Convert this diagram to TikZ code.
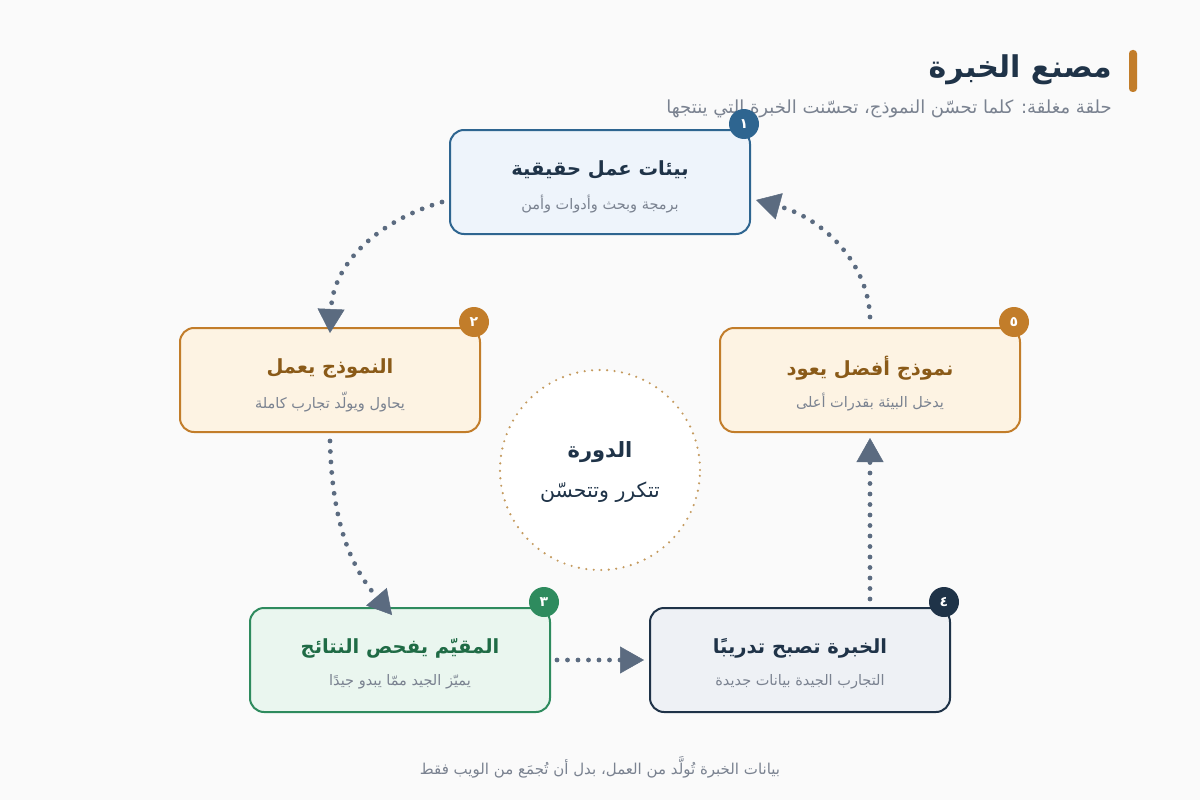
\documentclass[tikz,border=0pt]{standalone}
\usepackage{fontspec}
\usetikzlibrary{arrows.meta,calc}
\newfontfamily\ar[Script=Arabic]{DejaVu Sans}
\TeXXeTstate=1
\definecolor{bgc}{HTML}{FAFAFA}
\definecolor{navy}{HTML}{1F3348}
\definecolor{blueb}{HTML}{2E6590}
\definecolor{bluef}{HTML}{EEF4FB}
\definecolor{orgb}{HTML}{C27D2A}
\definecolor{orgf}{HTML}{FDF3E3}
\definecolor{orgt}{HTML}{8A5A18}
\definecolor{grnb}{HTML}{2E8B5E}
\definecolor{grnf}{HTML}{EAF6EF}
\definecolor{grnt}{HTML}{1F6B45}
\definecolor{navf}{HTML}{EEF1F5}
\definecolor{grayt}{HTML}{7A8290}
\definecolor{arrc}{HTML}{5B6B80}
\definecolor{dotc}{HTML}{C49A5E}
\tikzset{
  box/.style={draw, line width=2, rounded corners=14, minimum width=300, minimum height=104, inner sep=0},
  badge/.style={circle, minimum size=30, inner sep=0, text=white, font=\ar\bfseries\fontsize{14}{16}\selectfont},
  ttl/.style={font=\ar\bfseries\fontsize{19.5}{23}\selectfont},
  sub/.style={text=grayt, font=\ar\fontsize{14.5}{17}\selectfont},
  flow/.style={draw=arrc, line width=4.8, line cap=round, dash pattern=on 0 off 10.5,
    -{Triangle[length=24,width=27,line width=0.5]}}
}
\begin{document}
\begin{tikzpicture}[x=1pt,y=-1pt]
\fill[bgc] (0,0) rectangle (1200,800);
\useasboundingbox (0,0) rectangle (1200,800);

% header
\fill[orgb, rounded corners=3.5] (1129,50) rectangle (1137,92);
\node[anchor=east, text=navy, font=\ar\bfseries\fontsize{30}{36}\selectfont, inner sep=0] (title) at (1112,70) {\beginR مصنع الخبرة\endR};
\node[anchor=east, text=grayt, font=\ar\fontsize{18}{22}\selectfont, inner sep=0] (subtitle) at (1112,109) {\beginR حلقة مغلقة: كلما تحسّن النموذج، تحسّنت الخبرة التي ينتجها\endR};

% center circle
\node[circle, minimum size=200, draw=dotc, line width=2.4, line cap=round, dash pattern=on 0 off 7.5, fill=white] (cyc) at (600,470) {};
\node[text=navy, font=\ar\bfseries\fontsize{21}{25}\selectfont] (cyct) at (600,452) {\beginR الدورة\endR};
\node[text=navy, font=\ar\fontsize{20.5}{25}\selectfont] (cycs) at (600,492) {\beginR تتكرر وتتحسّن\endR};

% boxes
\node[box, draw=blueb, fill=bluef] (b1) at (600,182) {};
\node[box, draw=orgb, fill=orgf] (b2) at (330,380) {};
\node[box, draw=orgb, fill=orgf] (b5) at (870,380) {};
\node[box, draw=grnb, fill=grnf] (b3) at (400,660) {};
\node[box, draw=navy, fill=navf] (b4) at (800,660) {};

% badges
\node[badge, fill=blueb] (n1) at (b1.north east) [xshift=-7, yshift=5] {١};
\node[badge, fill=orgb] (n2) at (b2.north east) [xshift=-7, yshift=5] {٢};
\node[badge, fill=grnb] (n3) at (b3.north east) [xshift=-7, yshift=5] {٣};
\node[badge, fill=navy] (n4) at (b4.north east) [xshift=-7, yshift=5] {٤};
\node[badge, fill=orgb] (n5) at (b5.north east) [xshift=-7, yshift=5] {٥};

% texts
\node[ttl, text=navy] (t1) at ([yshift=12]b1.center) {\beginR بيئات عمل حقيقية\endR};
\node[sub] (s1) at ([yshift=-22]b1.center) {\beginR برمجة وبحث وأدوات وأمن\endR};
\node[ttl, text=orgt] (t2) at ([yshift=12]b2.center) {\beginR النموذج يعمل\endR};
\node[sub] (s2) at ([yshift=-22]b2.center) {\beginR يحاول ويولّد تجارب كاملة\endR};
\node[ttl, text=grnt] (t3) at ([yshift=12]b3.center) {\beginR المقيّم يفحص النتائج\endR};
\node[sub] (s3) at ([yshift=-22]b3.center) {\beginR يميّز الجيد ممّا يبدو جيدًا\endR};
\node[ttl, text=navy] (t4) at ([yshift=12]b4.center) {\beginR الخبرة تصبح تدريبًا\endR};
\node[sub] (s4) at ([yshift=-22]b4.center) {\beginR التجارب الجيدة بيانات جديدة\endR};
\node[ttl, text=orgt] (t5) at ([yshift=12]b5.center) {\beginR نموذج أفضل يعود\endR};
\node[sub] (s5) at ([yshift=-22]b5.center) {\beginR يدخل البيئة بقدرات أعلى\endR};

% arrows
\coordinate (a1s) at ([xshift=-7, yshift=-20]b1.west);
\coordinate (a2e) at ([yshift=-6]b2.north);
\draw[flow] (a1s) .. controls (375,222) and (333,265) .. (a2e);
\coordinate (a2s) at ([yshift=-8]b2.south);
\coordinate (a3e) at ([xshift=-8, yshift=-8]b3.north);
\draw[flow] (a2s) .. controls (332,525) and (352,568) .. (a3e);
\coordinate (a3s) at ([xshift=6]b3.east);
\coordinate (a4e) at ([xshift=-5]b4.west);
\draw[flow] (a3s) -- (a4e);
\coordinate (a4s) at ([xshift=70, yshift=8]b4.north);
\coordinate (a5e) at ([yshift=-5]b5.south);
\draw[flow] (a4s) -- (a5e);
\coordinate (a5s) at ([yshift=10]b5.north);
\coordinate (a1e) at ([xshift=5, yshift=-18]b1.east);
\draw[flow] (a5s) .. controls (868,262) and (822,218) .. (a1e);

% footer
\node[text=grayt, font=\ar\fontsize{15}{18}\selectfont] (foot) at (600,767) {\beginR بيانات الخبرة تُولَّد من العمل، بدل أن تُجمَع من الويب فقط\endR};
\end{tikzpicture}
\end{document}
